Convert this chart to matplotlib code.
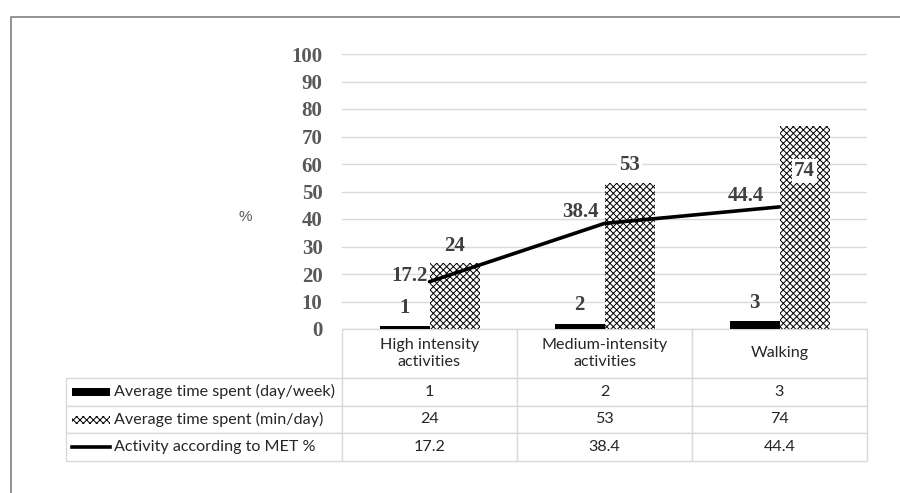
import numpy as np
import matplotlib.pyplot as plt
from matplotlib.patches import Rectangle
from matplotlib.lines import Line2D

# данные
categories = ['High intensity\nactivities', 'Medium-intensity\nactivities', 'Walking']
days_week = [1, 2, 3]
min_day = [24, 53, 74]
met_pct = [17.2, 38.4, 44.4]
series_names = ['Average time spent (day/week)', 'Average time spent (min/day)',
                'Activity according to MET %']
yticks = [0, 10, 20, 30, 40, 50, 60, 70, 80, 90, 100]

plt.rcParams['hatch.linewidth'] = 0.7
label_col = '#404040'
tick_col = '#595959'
grid_col = '#d9d9d9'
W, H = 900, 493
AXW, AXH = 525, 275  # размер области графика в пикселях

fig = plt.figure(figsize=(9, 4.93), dpi=100)
ax = fig.add_axes([342 / W, 1 - 329 / H, AXW / W, AXH / H])

x = np.arange(len(categories))
bw = 50 / 175
dark = ax.bar(x - bw / 2, days_week, bw, color='black', edgecolor='white',
              hatch='.', linewidth=0, zorder=2)
hat = ax.bar(x + bw / 2, min_day, bw, color='white', edgecolor='black',
             hatch='xxxxx', linewidth=0, zorder=2)
ax.plot(x, met_pct, color='black', lw=2.6, solid_capstyle='round', zorder=3)

ax.set_xlim(-0.5, 2.5)
ax.set_ylim(0, 100)
ax.set_yticks(yticks)
ax.set_xticks([])
ax.grid(axis='y', color=grid_col, lw=1)
ax.set_axisbelow(True)
for s in ax.spines.values():
    s.set_visible(False)
ax.tick_params(axis='y', length=0, pad=14)
for t in ax.get_yticklabels():
    t.set_fontfamily('Liberation Serif')
    t.set_fontweight('bold')
    t.set_fontsize(15)
    t.set_color(tick_col)

lab = dict(fontfamily='Liberation Serif', fontweight='bold', fontsize=15,
           color=label_col, textcoords='offset points')
for xi, v in zip(x, days_week):
    ax.annotate(str(v), (xi - bw / 2, v), xytext=(0, 13), ha='center', va='center', **lab)
# подписи второго ряда (74 внутри столбца)
hat_off = [12, 13, -33]
for i, (xi, v) in enumerate(zip(x, min_day)):
    bb = dict(facecolor='white', edgecolor='none', pad=1.5) if i > 0 else None
    ax.annotate(str(v), (xi + bw / 2, v), xytext=(0, hat_off[i]), ha='center',
                va='center', bbox=bb, zorder=4, **lab)
met_off = [(-1, 4), (-4, 8), (-11, 8)]
for i, (xi, v) in enumerate(zip(x, met_pct)):
    ax.annotate(f'{v}', (xi, v), xytext=met_off[i], ha='right', va='center',
                zorder=4, **lab)

fig.text(245 / W, 1 - 217 / H, '%', fontfamily='Liberation Sans', fontsize=11,
         color=tick_col, ha='center', va='center')

# таблица данных; подписи строк добавляются отдельно (без автоширины)
cell_text = [[str(v) for v in days_week], [str(v) for v in min_day],
             [f'{v}' for v in met_pct]]
tbl = ax.table(cellText=cell_text, colLabels=categories,
               cellLoc='center', colLoc='center',
               bbox=[0, (329 - 461) / AXH, 1, 132 / AXH])
for r, name in enumerate(series_names, start=1):
    tbl.add_cell(r, -1, width=276 / AXW, height=27.7 / AXH, text=name, loc='left')
tbl.auto_set_font_size(False)
for (r, c), cell in tbl.get_celld().items():
    cell.set_edgecolor(grid_col)
    cell.set_linewidth(1)
    cell.set_width((276 if c == -1 else 175) / AXW)
    cell.set_height((49 if r == 0 else 27.7) / AXH)
    cell.get_text().set_fontfamily('Lato')
    cell.get_text().set_fontsize(11.6)
    cell.get_text().set_color('#262626')
    if c == -1:
        cell.PAD = 48 / 276

# ключи легенды в таблице
kx0, kw = (72 - 342) / AXW, 38 / AXW
rows_y = [(329 - 392) / AXH, (329 - 420) / AXH, (329 - 447) / AXH]
kh = 8 / AXH
ax.add_patch(Rectangle((kx0, rows_y[0] - kh / 2), kw, kh, transform=ax.transAxes,
                       facecolor='black', edgecolor='white', hatch='.', lw=0,
                       clip_on=False))
ax.add_patch(Rectangle((kx0, rows_y[1] - kh / 2), kw, kh, transform=ax.transAxes,
                       facecolor='white', edgecolor='black', hatch='xxxxx', lw=0,
                       clip_on=False))
ax.add_line(Line2D([kx0, kx0 + kw], [rows_y[2], rows_y[2]], transform=ax.transAxes,
                   color='black', lw=2.6, clip_on=False))

# рамка
fig.add_artist(Line2D([11 / W, 11 / W, 1], [0, 1 - 17 / H, 1 - 17 / H],
                      color='#7f7f7f', lw=1.2))

fig.savefig('out.png', dpi=100)
